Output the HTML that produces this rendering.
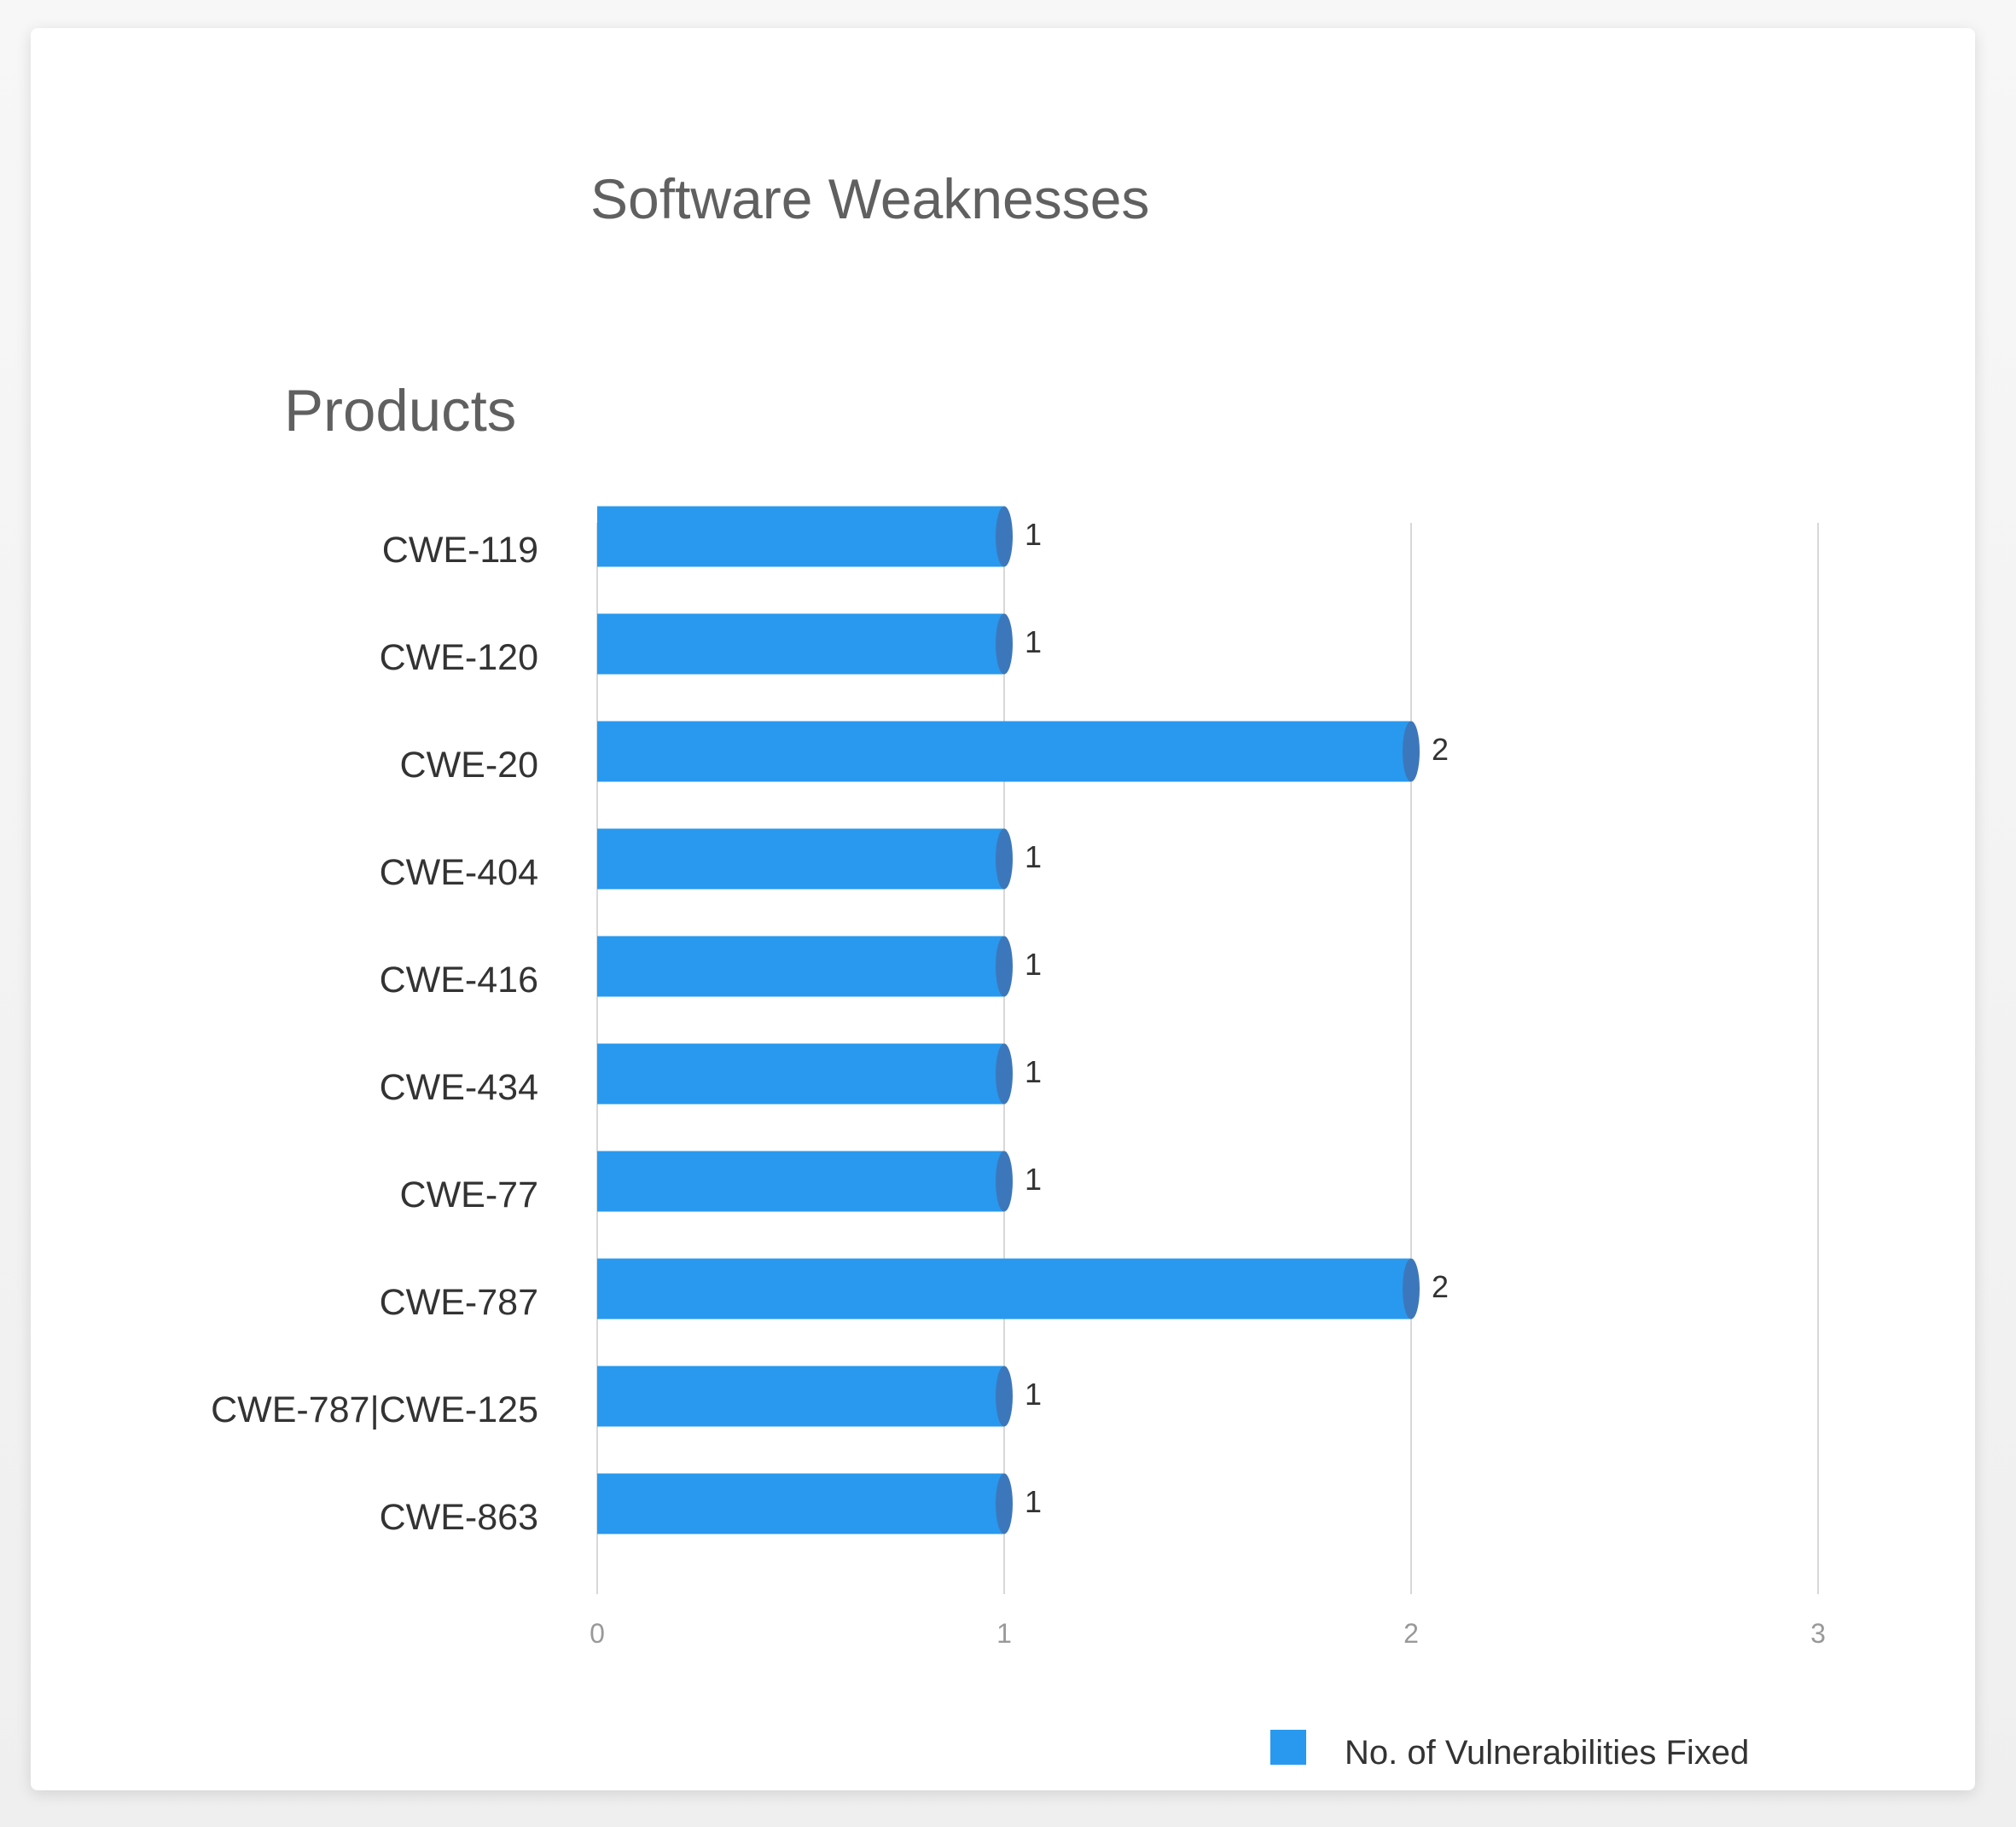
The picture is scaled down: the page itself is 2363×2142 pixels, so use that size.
<!DOCTYPE html>
<html><head><meta charset="utf-8">
<style>
html,body{margin:0;padding:0;background:#f2f2f2;}
#wrap{position:relative;width:2363px;height:2142px;overflow:hidden;background:linear-gradient(#f7f7f7,#efefef);}
#card{position:absolute;left:36px;top:33px;width:2279px;height:2066px;background:#fff;border-radius:8px;box-shadow:0 4px 18px rgba(0,0,0,0.12);}
svg{position:absolute;left:0;top:0;}
text{font-family:"Liberation Sans",sans-serif;}
</style></head>
<body>
<div id="wrap">
<div id="card"></div>
<svg id="chart" width="2363" height="2142">
<text x="692" y="256" font-size="66" fill="#606060">Software Weaknesses</text>
<text x="333" y="505" font-size="69" fill="#606060">Products</text>
<g id="grid"></g><g id="bars"></g><g id="labels"></g>
<rect x="1489" y="2028" width="42" height="41" fill="#2899ee"/>
<text x="1576" y="2068" font-size="40" fill="#333">No. of Vulnerabilities Fixed</text>
</svg>
</div>
<script>
const categories=["CWE-119","CWE-120","CWE-20","CWE-404","CWE-416","CWE-434","CWE-77","CWE-787","CWE-787|CWE-125","CWE-863"];
const values=[1,1,2,1,1,1,1,2,1,1];
const ticks=[0,1,2,3];
const NS="http://www.w3.org/2000/svg";
const X0=700,XS=477,Y0=629,YS=126,BH=71;
const x=v=>X0+v*XS;
const y=i=>Y0+i*YS;
function mk(tag,attrs,parent,txt){const e=document.createElementNS(NS,tag);for(const k in attrs)e.setAttribute(k,attrs[k]);if(txt!==undefined)e.textContent=txt;parent.appendChild(e);return e;}
const grid=document.getElementById('grid'),bars=document.getElementById('bars'),labels=document.getElementById('labels');
ticks.forEach(t=>{
 const l=mk('line',{x1:x(t),x2:x(t),y1:613,y2:1869,stroke:'#d8d8d8','stroke-width':2},grid);
 
 
 const tx=mk('text',{x:x(t),y:1926,'font-size':32,fill:'#999','text-anchor':'middle'},grid,String(t));
 
 
});
categories.forEach((c,i)=>{
 const cy=y(i),v=values[i];
 const r=mk('rect',{x:x(0),y:cy-BH/2,width:x(v)-x(0),height:BH,fill:'#2899ee'},bars);
 
 
 const cap=mk('ellipse',{cx:x(v),cy:cy,rx:10,ry:BH/2,fill:'#3d77bb'},bars);
 
 
 const lb=mk('text',{x:631,y:cy+30,'font-size':43,fill:'#333','text-anchor':'end'},labels,c);
 
 
 const vl=mk('text',{x:x(v)+24,y:cy+10,'font-size':36,fill:'#333'},labels,String(v));
 
 
});
</script>
</body></html>
